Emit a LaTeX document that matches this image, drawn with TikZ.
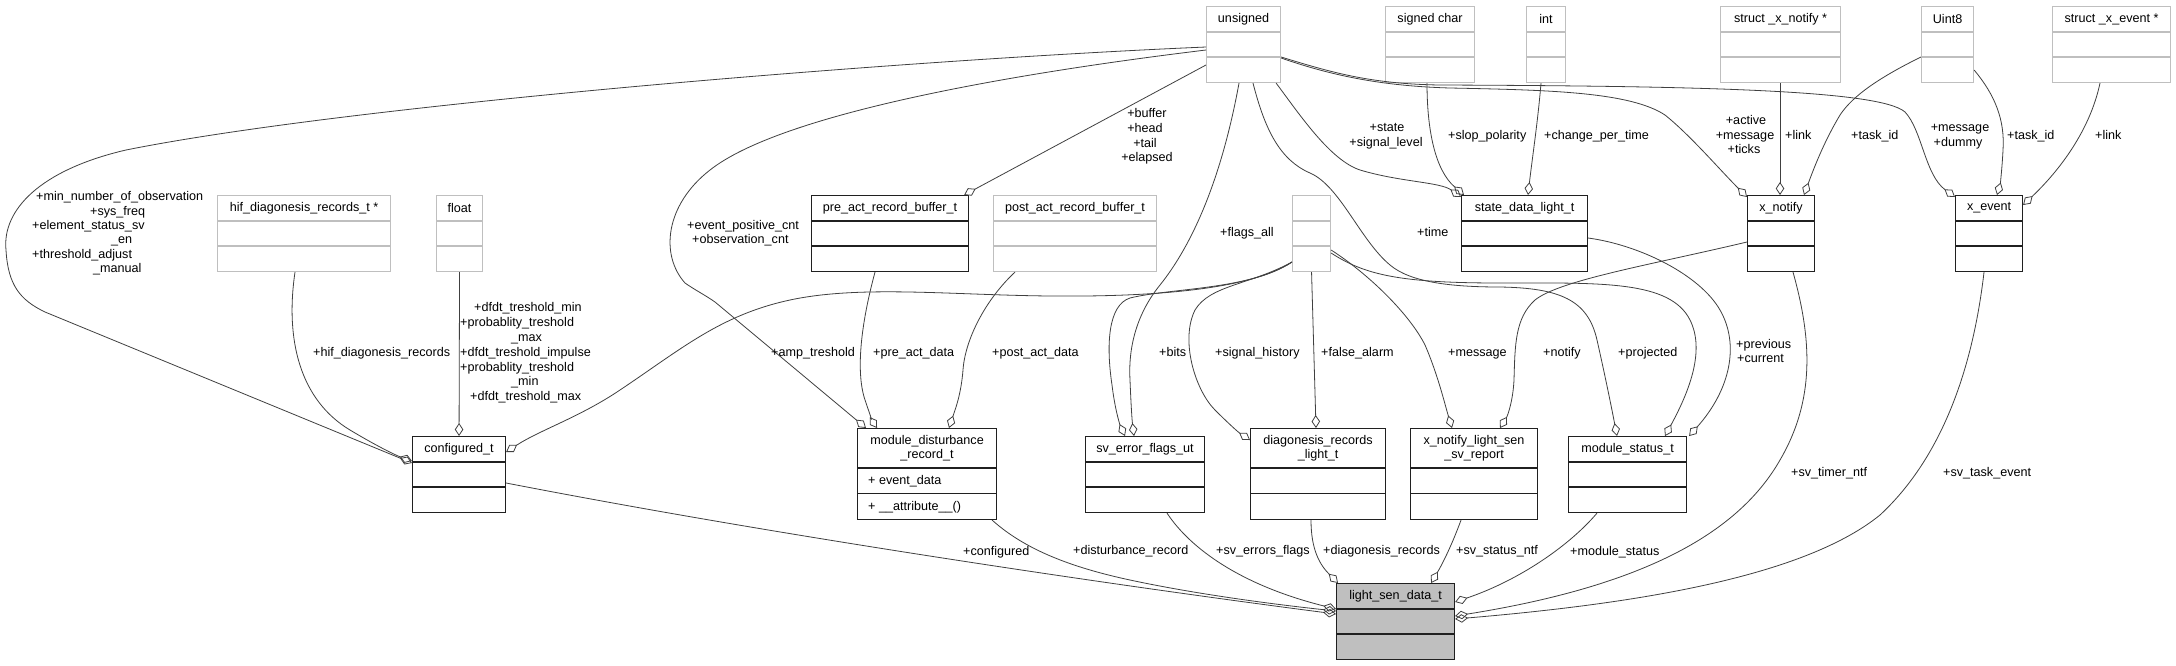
\documentclass[tikz,border=0pt]{standalone}
\usepackage{fontspec}
\setmainfont{Liberation Sans}
\usetikzlibrary{arrows.meta,calc}
\definecolor{edgecol}{HTML}{404040}
\definecolor{boxgray}{HTML}{BFBFBF}
\definecolor{hlfill}{HTML}{BFBFBF}
\definecolor{boxblack}{HTML}{202020}
\tikzset{
  dbox/.style={draw=boxblack, line width=1.1pt},
  gbox/.style={draw=boxgray, line width=1.1pt},
  hbox/.style={draw=boxblack, line width=1.1pt, fill=hlfill},
  rel/.style={draw=edgecol, line width=0.8pt, -{Diamond[open, length=13pt, width=8.5pt]}},
  lbl/.style={inner sep=0pt, text=black},
}
\newcommand\classbox[8]{%
  \node[#8, anchor=north west, minimum width=#4pt, minimum height=#5pt, inner sep=0pt] (#1) at (#2,#3) {};
  \node[inner sep=0pt, align=center] (#1t) at ($(#1.north)+(0,{#6/2})$) {#7};
  \draw[#8, fill=none] ($(#1.north west)+(0,#6)$) -- ($(#1.north east)+(0,#6)$);
  \draw[#8, fill=none] ($(#1.north west)+(0,{(#5+#6)/2})$) -- ($(#1.north east)+(0,{(#5+#6)/2})$);
}
\newcommand\lbl[4]{\node[lbl, anchor=base west] (#1) at (#2,{#3+4.5}) {#4};}
\newcommand\lblc[4]{\node[lbl, anchor=base] (#1) at (#2,{#3+4.5}) {#4};}
\begin{document}
\begin{tikzpicture}[x=1pt, y=-1pt, font=\fontsize{12.6}{14.5}\selectfont]
\fill[white] (0,0) rectangle (2176,665);
\useasboundingbox (0,0) rectangle (2176,665);

% ---------- class boxes ----------
\classbox{uns}{1206}{6}{74}{76}{26}{unsigned}{gbox}
\classbox{sch}{1385}{6}{89}{76}{26}{signed char}{gbox}
\classbox{int}{1526}{6}{39}{76}{26}{int}{gbox}
\classbox{sxn}{1720}{6}{120}{76}{26}{struct \_x\_notify *}{gbox}
\classbox{u8}{1921}{6}{52}{76}{26}{Uint8}{gbox}
\classbox{sxe}{2052}{6}{118}{76}{26}{struct \_x\_event *}{gbox}
\classbox{hif}{217}{195}{173}{76}{26}{hif\_diagonesis\_records\_t *}{gbox}
\classbox{flt}{436}{195}{46}{76}{26}{float}{gbox}
\classbox{pre}{811}{195}{157}{76}{26}{pre\_act\_record\_buffer\_t}{dbox}
\classbox{post}{993}{195}{163}{76}{26}{post\_act\_record\_buffer\_t}{gbox}
\classbox{anon}{1292}{195}{38}{76}{26}{}{gbox}
\classbox{sdl}{1461}{195}{126}{76}{26}{state\_data\_light\_t}{dbox}
\classbox{xn}{1747}{195}{67}{76}{26}{x\_notify}{dbox}
\classbox{xe}{1955}{195}{67}{76}{26}{x\_event}{dbox}
\classbox{cfg}{412}{436}{93}{76}{26}{configured\_t}{dbox}
\classbox{mdr}{857}{428}{139}{91}{40}{module\_disturbance\\\_record\_t}{dbox}
\classbox{sef}{1085}{436}{119}{76}{26}{sv\_error\_flags\_ut}{dbox}
\classbox{drl}{1250}{428}{135}{91}{40}{diagonesis\_records\\\_light\_t}{dbox}
\classbox{xnl}{1410}{428}{127}{91}{40}{x\_notify\_light\_sen\\\_sv\_report}{dbox}
\classbox{mst}{1568}{436}{118}{76}{26}{module\_status\_t}{dbox}
\classbox{lsd}{1336}{583}{118}{76}{26}{light\_sen\_data\_t}{hbox}
\lbl{mdr1}{868}{480}{+ event\_data}
\lbl{mdr2}{868}{506}{+ \_\_attribute\_\_()}

% ---------- connectors ----------
% unsigned
\draw[rel] ($(uns.north west)+(0,41)$) .. controls (900,60) and (350,105) .. (126,150)
  .. controls (40,170) and (2,210) .. (6,250) .. controls (8,285) and (20,300) .. (45,312)
  -- ($(cfg.north west)+(0,27)$);
\draw[rel] ($(uns.north west)+(0,44)$) .. controls (1000,75) and (780,115) .. (710,170)
  .. controls (665,205) and (660,255) .. (685,283) .. controls (695,290) and (705,295) .. (715,302)
  -- ($(mdr.north west)+(9,0)$);
\draw[rel] ($(uns.north west)+(0,59)$) -- ($(pre.north east)+(-5,0)$);
\draw[rel] ($(uns.south west)+(33,0)$) .. controls (1225,160) and (1200,235) .. (1160,285)
  .. controls (1138,312) and (1128,345) .. (1130,380) .. controls (1131,405) and (1132,420) .. ($(sef.north west)+(49,0)$);
\draw[rel] ($(uns.south west)+(47,0)$) .. controls (1265,130) and (1280,160) .. (1310,173)
  .. controls (1340,186) and (1360,240) .. (1390,265) .. controls (1410,282) and (1450,287) .. (1500,287)
  .. controls (1560,288) and (1588,300) .. (1597,340) .. controls (1606,380) and (1612,410) .. ($(mst.north west)+(49,0)$);
\draw[rel] ($(uns.south east)+(-5,0)$) .. controls (1300,115) and (1330,160) .. (1360,170)
  .. controls (1400,182) and (1440,182) .. ($(sdl.north west)+(0,2)$);
\draw[rel] ($(uns.north east)+(0,52)$) .. controls (1330,75) and (1380,86) .. (1450,88)
  .. controls (1550,90) and (1630,92) .. (1665,115) .. controls (1690,135) and (1720,170) .. ($(xn.north west)+(0,2)$);
\draw[rel] ($(uns.north east)+(0,51)$) .. controls (1330,72) and (1370,84) .. (1440,85)
  .. controls (1700,86) and (1880,90) .. (1905,112) .. controls (1922,130) and (1925,175) .. ($(xe.north west)+(0,2)$);
% other top types
\draw[rel] ($(sch.south west)+(42,0)$) .. controls (1427,130) and (1435,170) .. ($(sdl.north west)+(3,0)$);
\draw[rel] ($(int.south west)+(15,0)$) .. controls (1538,120) and (1532,160) .. ($(sdl.north west)+(67,0)$);
\draw[rel] ($(sxn.south west)+(60,0)$) -- ($(xn.north west)+(33,0)$);
\draw[rel] ($(u8.north west)+(0,51)$) .. controls (1870,82) and (1850,100) .. (1840,115)
  .. controls (1825,140) and (1815,165) .. ($(xn.north west)+(57,0)$);
\draw[rel] ($(u8.north east)+(0,64)$) .. controls (1995,95) and (2005,120) .. (2003,150)
  .. controls (2002,170) and (2000,185) .. ($(xe.north west)+(42,0)$);
\draw[rel] ($(sxe.south west)+(48,0)$) .. controls (2090,130) and (2060,170) .. ($(xe.north east)+(0,10)$);
% configured_t
\draw[rel] ($(hif.south west)+(78,0)$) .. controls (285,340) and (300,400) .. (350,430)
  .. controls (375,445) and (395,455) .. ($(cfg.north west)+(0,25)$);
\draw[rel] (flt.south) -- (cfg.north);
% anonymous box
\draw[rel] ($(anon.north west)+(0,67)$) .. controls (1250,290) and (1150,297) .. (1050,296)
  .. controls (950,295) and (860,285) .. (790,300) .. controls (720,315) and (680,350) .. (620,390)
  .. controls (580,417) and (540,430) .. ($(cfg.north east)+(0,16)$);
\draw[rel] ($(anon.north west)+(0,67)$) .. controls (1250,290) and (1170,288) .. (1130,298)
  .. controls (1108,305) and (1106,345) .. (1112,385) .. controls (1115,410) and (1120,425) .. ($(sef.north west)+(40,0)$);
\draw[rel] ($(anon.north west)+(0,67)$) .. controls (1250,285) and (1210,285) .. (1195,310)
  .. controls (1180,340) and (1195,390) .. (1215,410) .. controls (1228,423) and (1238,432) .. ($(drl.north west)+(0,12)$);
\draw[rel] (anon.south) -- ($(drl.north west)+(66,0)$);
\draw[rel] ($(anon.north east)+(0,55)$) .. controls (1370,275) and (1410,315) .. (1425,345)
  .. controls (1438,375) and (1445,405) .. ($(xnl.north west)+(42,0)$);
\draw[rel] ($(anon.north east)+(0,58)$) .. controls (1365,275) and (1400,283) .. (1500,283)
  .. controls (1600,283) and (1670,280) .. (1690,320) .. controls (1705,350) and (1690,390) .. ($(mst.north west)+(97,0)$);
% module_disturbance_record_t
\draw[rel] ($(pre.south west)+(64,0)$) .. controls (862,320) and (855,370) .. (865,400)
  .. controls (870,415) and (873,422) .. ($(mdr.north west)+(20,0)$);
\draw[rel] ($(post.south west)+(22,0)$) .. controls (985,300) and (965,340) .. (963,370)
  .. controls (961,395) and (955,410) .. ($(mdr.north west)+(92,0)$);
% x_notify, state_data
\draw[rel] ($(xn.north west)+(0,47)$) .. controls (1650,265) and (1560,280) .. (1535,300)
  .. controls (1515,318) and (1515,345) .. (1514,380) .. controls (1513,400) and (1508,415) .. ($(xnl.north west)+(90,0)$);
\draw[rel] ($(sdl.north east)+(0,43)$) .. controls (1640,245) and (1700,275) .. (1720,310)
  .. controls (1740,345) and (1730,390) .. ($(mst.north east)+(2,0)$);
% into light_sen_data_t
\draw[rel] ($(cfg.north east)+(0,47)$) .. controls (800,540) and (1150,590) .. ($(lsd.north west)+(0,31)$);
\draw[rel] ($(mdr.south east)+(-5,0)$) .. controls (1020,545) and (1060,565) .. (1130,580)
  .. controls (1200,595) and (1280,605) .. ($(lsd.north west)+(0,28)$);
\draw[rel] ($(sef.south west)+(82,0)$) .. controls (1190,548) and (1240,585) .. ($(lsd.north west)+(0,26)$);
\draw[rel] ($(drl.south west)+(61,0)$) .. controls (1311,550) and (1320,565) .. ($(lsd.north west)+(2,0)$);
\draw[rel] ($(xnl.south west)+(51,0)$) .. controls (1450,550) and (1440,568) .. ($(lsd.north east)+(-24,0)$);
\draw[rel] ($(mst.south west)+(29,0)$) .. controls (1570,545) and (1520,580) .. ($(lsd.north east)+(0,19)$);
\draw[rel] ($(xn.south west)+(46,0)$) .. controls (1812,340) and (1815,400) .. (1780,460)
  .. controls (1740,530) and (1650,585) .. ($(lsd.north east)+(0,33)$);
\draw[rel] ($(xe.south west)+(29,0)$) .. controls (1975,350) and (1950,450) .. (1880,515)
  .. controls (1800,580) and (1620,605) .. ($(lsd.north east)+(0,36)$);

% ---------- labels ----------
\lbl{la1}{36}{196}{+min\_number\_of\_observation}
\lbl{la2}{90}{211}{+sys\_freq}
\lbl{la3}{32}{225}{+element\_status\_sv}
\lbl{la4}{111}{239}{\_en}
\lbl{la5}{32}{254}{+threshold\_adjust}
\lbl{la6}{93}{268}{\_manual}
\lbl{lb}{313}{352}{+hif\_diagonesis\_records}
\lbl{lc1}{474}{307}{+dfdt\_treshold\_min}
\lbl{lc2}{460}{322}{+probablity\_treshold}
\lbl{lc3}{511}{337}{\_max}
\lbl{lc4}{460}{352}{+dfdt\_treshold\_impulse}
\lbl{lc5}{460}{367}{+probablity\_treshold}
\lbl{lc6}{511}{381}{\_min}
\lbl{lc7}{470}{396}{+dfdt\_treshold\_max}
\lbl{ld1}{687}{225}{+event\_positive\_cnt}
\lbl{ld2}{692}{239}{+observation\_cnt}
\lblc{le1}{1147}{113}{+buffer}
\lblc{le2}{1145}{128}{+head}
\lblc{le3}{1145}{143}{+tail}
\lblc{le4}{1147}{157}{+elapsed}
\lbl{lf}{771}{352}{+amp\_treshold}
\lbl{lg}{873}{352}{+pre\_act\_data}
\lbl{lh}{992}{352}{+post\_act\_data}
\lbl{li}{1220}{232}{+flags\_all}
\lblc{lj1}{1387}{127}{+state}
\lblc{lj2}{1386}{142}{+signal\_level}
\lbl{lk}{1448}{135}{+slop\_polarity}
\lbl{ll}{1544}{135}{+change\_per\_time}
\lbl{lm}{1417}{232}{+time}
\lblc{ln1}{1746}{120}{+active}
\lblc{ln2}{1745}{135}{+message}
\lblc{ln3}{1744}{149}{+ticks}
\lbl{lo}{1785}{135}{+link}
\lbl{lp}{1851}{135}{+task\_id}
\lblc{lq1}{1960}{127}{+message}
\lblc{lq2}{1958}{142}{+dummy}
\lbl{lr}{2007}{135}{+task\_id}
\lbl{ls}{2095}{135}{+link}
\lbl{lt}{1159}{352}{+bits}
\lbl{lu}{1215}{352}{+signal\_history}
\lbl{lv}{1321}{352}{+false\_alarm}
\lbl{lw}{1448}{352}{+message}
\lbl{lx}{1543}{352}{+notify}
\lbl{ly}{1618}{352}{+projected}
\lbl{lz1}{1736}{344}{+previous}
\lbl{lz2}{1737}{358}{+current}
\lbl{lA}{1791}{472}{+sv\_timer\_ntf}
\lbl{lB}{1943}{472}{+sv\_task\_event}
\lbl{lC}{963}{551}{+configured}
\lbl{lD}{1073}{550}{+disturbance\_record}
\lbl{lE}{1216}{550}{+sv\_errors\_flags}
\lbl{lF}{1323}{550}{+diagonesis\_records}
\lbl{lG}{1456}{550}{+sv\_status\_ntf}
\lbl{lH}{1570}{551}{+module\_status}
\end{tikzpicture}
\end{document}
